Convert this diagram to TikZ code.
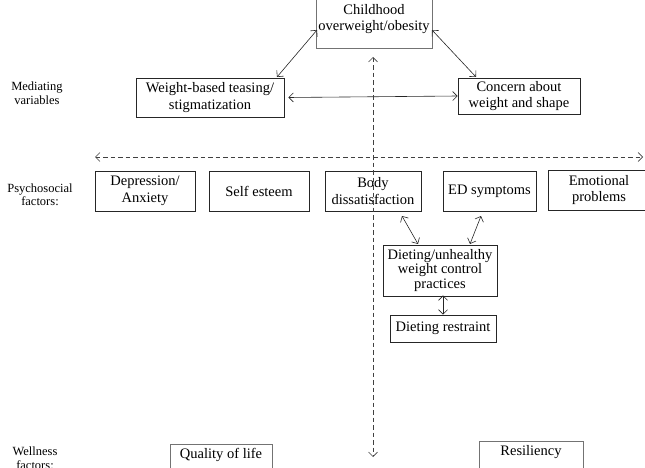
\documentclass[tikz,border=0pt]{standalone}
\usepackage{fontspec}
\setmainfont{Liberation Serif}
\usetikzlibrary{arrows.meta}
\begin{document}
\begin{tikzpicture}[x=1pt,y=-1pt,
  >={Straight Barb[length=4.5pt,width=9pt]},
  box/.style={draw=black!85,line width=0.8pt,rectangle,inner sep=0pt,align=center,font=\fontsize{14.5}{16.5}\selectfont},
  gbox/.style={box,draw=black!55},
  lab/.style={align=center,inner sep=0pt,font=\fontsize{12.5}{13.5}\selectfont},
  conn/.style={<->,black!85,line width=0.6pt},
  dconn/.style={<->,black!75,line width=0.6pt,dash pattern=on 4.5pt off 3pt}]
\useasboundingbox (0,0) rectangle (645,468);
\clip (0,0) rectangle (645,468);
% top
\node[gbox,minimum width=116pt,minimum height=58pt] (top) at (374,19) {Childhood\\overweight/obesity};
% mediating
\node[box,minimum width=148pt,minimum height=39pt] (wbt) at (210,97.5) {Weight-based teasing/\\stigmatization};
\node[box,minimum width=122pt,minimum height=36pt] (cws) at (519,96) {Concern about\\weight and shape};
% psychosocial
\node[box,minimum width=100pt,minimum height=40pt] (dep) at (145,191) {Depression/\\Anxiety};
\node[box,minimum width=100pt,minimum height=40pt] (se) at (259,191) {Self esteem};
\node[box,minimum width=96pt,minimum height=40pt] (bd) at (373,191) {Body\\dissatisfaction};
\node[box,minimum width=93pt,minimum height=40pt] (ed) at (489.5,191) {ED symptoms};
\node[box,minimum width=102pt,minimum height=40pt] (emo) at (599,190) {Emotional\\problems};
% dieting
\node[box,minimum width=114pt,minimum height=51pt,font=\fontsize{14.5}{14.5}\selectfont] (diet) at (440,270.5) {Dieting/unhealthy\\weight control\\practices};
\node[box,minimum width=106pt,minimum height=27pt] (dr) at (443,328.5) {Dieting restraint};
% wellness
\node[gbox,minimum width=102pt,minimum height=32pt] (qol) at (221,460) {};
\node[lab,font=\fontsize{14.5}{16}\selectfont] (qolt) at (221,455) {Quality of life};
\node[gbox,minimum width=104pt,minimum height=32pt] (res) at (531,457) {};
\node[lab,font=\fontsize{14.5}{16}\selectfont] (rest) at (531,452) {Resiliency};
% labels
\node[lab] (lmed) at (37,93) {Mediating\\variables};
\node[lab] (lpsy) at (40,195) {Psychosocial\\factors:};
\node[lab] (lwel) at (35,458) {Wellness\\factors:};
% connectors
\coordinate (tl) at (317,30);
\coordinate (tr) at (432,30);
\coordinate (wtop) at (277,77);
\coordinate (ctop) at (476,77);
\draw[conn] (tl) -- (wtop);
\draw[conn] (tr) -- (ctop);
\draw[conn] ([xshift=4pt]wbt.east) -- (cws.west);
\coordinate (vt) at (373,57);
\coordinate (vb) at (373,457);
\draw[dconn] (vt) -- (vb);
\coordinate (hl) at (95,157);
\coordinate (hr) at (643,157);
\draw[dconn] (hl) -- (hr);
\coordinate (bdo) at (402,216);
\coordinate (edo) at (481,216);
\coordinate (di1) at (418,244);
\coordinate (di2) at (470,244);
\draw[conn] (bdo) -- (di1);
\draw[conn] (edo) -- (di2);
\draw[conn] ([yshift=1pt]diet.south -| dr.north) -- (dr.north);
\end{tikzpicture}
\end{document}
